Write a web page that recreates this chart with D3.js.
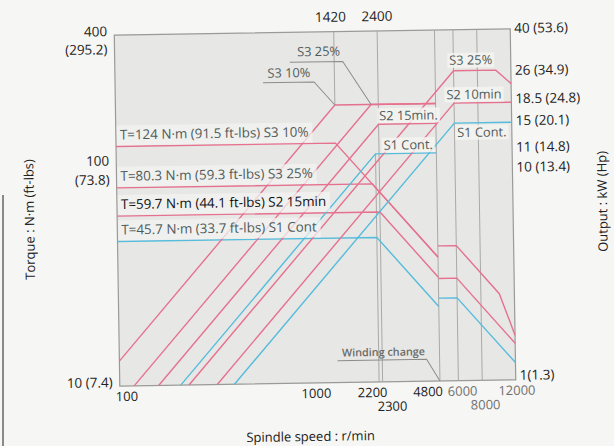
<!DOCTYPE html>
<html>
<head>
<meta charset="utf-8">
<script src="https://cdn.jsdelivr.net/npm/d3@7/dist/d3.min.js"></script>
<style>
  body { margin: 0; background: #f6f6f4; }
  svg { display: block; font-family: "Open Sans", sans-serif; }
</style>
</head>
<body>
<svg width="614" height="446"></svg>
<script>
// speeds r/min, torque N·m, output kW
var bottomTicks = [100, 1000, 2200, 2300, 4800, 6000, 8000, 12000];
var topTicks = [1420, 2400];
var torqueTicks = [400, 100, 10];
var torqueTickLabels = [["400", "(295.2)"], ["100", "(73.8)"], ["10 (7.4)"]];
var powerTicks = [40, 26, 18.5, 15, 11, 10, 1];
var powerTickLabels = ["40 (53.6)", "26 (34.9)", "18.5 (24.8)", "15 (20.1)", "11 (14.8)", "10 (13.4)", "1(1.3)"];

// low-speed winding torque
var torqueS3_10 = [[100, 124], [1420, 124], [4800, 36.8]];
var torqueS3_25L = [[100, 80.3], [2200, 80.3], [4800, 36.8]];
var torqueS2_15 = [[100, 59.7], [2400, 59.7], [4800, 29.8]];
var torqueS1L = [[100, 45.7], [2300, 45.7], [4800, 21.9]];
// high-speed winding torque
var torqueS3_25H = [[4800, 41.4], [6000, 41.4], [10000, 24.8], [12000, 16]];
var torqueS2_10 = [[4800, 29.4], [6000, 29.4], [12000, 14.7]];
var torqueS1H = [[4800, 23.9], [6000, 23.9], [12000, 12]];

// output
var powerS3_10 = [[100, 1.3], [1420, 18.5], [4800, 18.5]];
var powerS3_25L = [[119, 1], [2200, 18.5], [4800, 18.5]];
var powerS2_15 = [[160, 1], [2400, 15], [4800, 15]];
var powerS1L = [[209, 1], [2300, 11], [4800, 11]];
var powerS3_25H = [[231, 1], [6000, 26], [10000, 26], [12000, 22.5]];
var powerS2_10 = [[325, 1], [6000, 18.5], [12000, 18.5]];
var powerS1H = [[400, 1], [6000, 15], [12000, 15]];

var torqueLabels = ["T=124 N·m (91.5 ft-lbs) S3 10%", "T=80.3 N·m (59.3 ft-lbs) S3 25%",
                    "T=59.7 N·m (44.1 ft-lbs) S2 15min", "T=45.7 N·m (33.7 ft-lbs) S1 Cont"];
var torqueLabelValues = [124, 80.3, 59.7, 45.7];

var svg = d3.select("svg");
// the scan is turned a little
var g = svg.append("g").attr("transform", "rotate(-0.9,314,207)");

var x = d3.scaleLog().domain([100, 12000]).range([117, 513]);
var yT = d3.scaleLog().domain([10, 400]).range([383, 32]);
var yP = d3.scaleLog().domain([1, 40]).range([383, 32]);

var pink = "#e6718f", blue = "#55bcdc", grid = "#a9a9a7", ink = "#222", soft = "#4f5b5b";

g.append("rect")
  .attr("x", x(100)).attr("y", yT(400))
  .attr("width", x(12000) - x(100)).attr("height", yT(10) - yT(400))
  .attr("fill", "#e7e7e5").attr("stroke", "#9a9a98").attr("stroke-width", 1.2);

// vertical speed lines
[2400, 4800, 6000, 8000].forEach(function(s) {
  g.append("line").attr("x1", x(s)).attr("x2", x(s)).attr("y1", yT(400)).attr("y2", yT(10))
    .attr("stroke", grid).attr("stroke-width", 1);
});
g.append("line").attr("x1", x(1420)).attr("x2", x(1420)).attr("y1", yT(400)).attr("y2", yP(18.5))
  .attr("stroke", grid).attr("stroke-width", 1);
g.append("line").attr("x1", x(2300)).attr("x2", x(2300)).attr("y1", yP(11)).attr("y2", yT(10))
  .attr("stroke", grid).attr("stroke-width", 1);

var torqueLine = d3.line().x(function(d) { return x(d[0]); }).y(function(d) { return yT(d[1]); });
var powerLine = d3.line().x(function(d) { return x(d[0]); }).y(function(d) { return yP(d[1]); });

var torqueSeries = [["S3", torqueS3_10], ["S3", torqueS3_25L], ["S2", torqueS2_15], ["S1", torqueS1L],
                    ["S3", torqueS3_25H], ["S2", torqueS2_10], ["S1", torqueS1H]];
var powerSeries = [["S3", powerS3_10], ["S3", powerS3_25L], ["S2", powerS2_15], ["S1", powerS1L],
                   ["S3", powerS3_25H], ["S2", powerS2_10], ["S1", powerS1H]];

torqueSeries.forEach(function(s) {
  g.append("path").attr("d", torqueLine(s[1])).attr("fill", "none")
    .attr("stroke", s[0] == "S1" ? blue : pink).attr("stroke-width", 1.4);
});
powerSeries.forEach(function(s) {
  g.append("path").attr("d", powerLine(s[1])).attr("fill", "none")
    .attr("stroke", s[0] == "S1" ? blue : pink).attr("stroke-width", 1.4);
});

// torque rating labels on the left
torqueLabels.forEach(function(t, i) {
  var yv = yT(torqueLabelValues[i]);
  var box = g.append("rect").attr("x", x(100) + 1).attr("y", yv - 21).attr("height", 20)
    .attr("fill", "#f3f3f1").attr("fill-opacity", 0.75);
  var txt = g.append("text").attr("x", x(100) + 4).attr("y", yv - 7)
    .attr("font-size", 13.4).attr("fill", i == 2 ? "#111" : soft)
    .attr("font-weight", i == 2 ? 500 : 400).text(t);
  box.attr("width", txt.node().getComputedTextLength() + 7);
});

// small boxed labels near the knees
function tag(text, cx, base) {
  var box = g.append("rect").attr("y", base - 12).attr("height", 15)
    .attr("fill", "#f3f3f1").attr("fill-opacity", 0.85);
  var t = g.append("text").attr("x", cx).attr("y", base).attr("text-anchor", "middle")
    .attr("font-size", 12.8).attr("fill", soft).text(text);
  var w = t.node().getComputedTextLength();
  box.attr("x", cx - w / 2 - 2).attr("width", w + 4);
}
tag("S3 25%", x(7400), yP(26) - 6);
tag("S2 10min", x(7650), yP(18.5) - 4);
tag("S2 15min.", x(3450), yP(15) - 4);
tag("S1 Cont.", x(3420), yP(11) - 4);
tag("S1 Cont.", x(8350), yP(15) + 14);

// leader lines for S3 labels at the upper knees
g.append("text").attr("x", 321).attr("y", 56).attr("text-anchor", "middle")
  .attr("font-size", 12.8).attr("fill", soft).text("S3 25%");
g.append("path").attr("d", d3.line()([[292, 62], [345, 62], [x(2200), yP(18.5)]]))
  .attr("fill", "none").attr("stroke", "#8c8c8a").attr("stroke-width", 1);
g.append("text").attr("x", 291).attr("y", 77).attr("text-anchor", "middle")
  .attr("font-size", 12.8).attr("fill", soft).text("S3 10%");
g.append("path").attr("d", d3.line()([[265, 82], [316, 82], [x(1420), yP(18.5)]]))
  .attr("fill", "none").attr("stroke", "#8c8c8a").attr("stroke-width", 1);

// winding change note
g.append("text").attr("x", x(4800) - 56).attr("y", yT(10) - 26).attr("text-anchor", "middle")
  .attr("font-size", 10.8).attr("font-weight", 600).attr("fill", "#6a6a68").text("Winding change");
g.append("path").attr("d", d3.line()([[x(4800) - 102, yT(10) - 22], [x(4800) - 13, yT(10) - 22], [x(4800), yT(10)]]))
  .attr("fill", "none").attr("stroke", "#8c8c8a").attr("stroke-width", 1);

// left axis labels
torqueTicks.forEach(function(v, i) {
  var lab = torqueTickLabels[i];
  g.append("text").attr("x", 110).attr("y", yT(v) + (v == 100 ? -1.5 : 1))
    .attr("text-anchor", "end").attr("font-size", 13.5).attr("fill", ink).text(lab[0]);
  if (lab.length > 1) {
    g.append("text").attr("x", 110).attr("y", yT(v) + (v == 400 ? 19 : 17.5))
      .attr("text-anchor", "end").attr("font-size", 13.5).attr("fill", ink).text(lab[1]);
  }
});

// right axis labels
var powerLabelShift = [-1, 0, -4, -2, -5, 6, -5];
powerTicks.forEach(function(v, i) {
  g.append("text").attr("x", 517).attr("y", yP(v) + powerLabelShift[i] + 5)
    .attr("font-size", 13.5).attr("fill", ink).text(powerTickLabels[i]);
});

// bottom speed labels
var bottomShift = [7, 6, -3, 13, -12, 4, 3, 1];
var bottomRow = [0, 0, 0, 1, 0, 0, 1, 0];
bottomTicks.forEach(function(v, i) {
  g.append("text").attr("x", x(v) + bottomShift[i]).attr("y", bottomRow[i] ? 412 : 398)
    .attr("text-anchor", "middle").attr("font-size", 13)
    .attr("fill", v >= 6000 ? "#707070" : ink).text(v);
});
topTicks.forEach(function(v, i) {
  g.append("text").attr("x", x(v) + (i == 0 ? -3 : 0)).attr("y", 22)
    .attr("text-anchor", "middle").attr("font-size", 13.5).attr("fill", ink).text(v);
});

// axis titles
g.append("text").attr("transform", "translate(34,215) rotate(-90)").attr("text-anchor", "middle")
  .attr("font-size", 13).attr("fill", ink).text("Torque : N·m (ft-lbs)");
g.append("text").attr("transform", "translate(607,206) rotate(-90)").attr("text-anchor", "middle")
  .attr("font-size", 13).attr("fill", ink).text("Output : kW (Hp)");
g.append("text").attr("x", 307).attr("y", 441).attr("text-anchor", "middle")
  .attr("font-size", 13).attr("fill", ink).text("Spindle speed : r/min");

// scan edge
svg.append("line").attr("x1", 3).attr("x2", 3).attr("y1", 195).attr("y2", 446)
  .attr("stroke", "#666").attr("stroke-width", 1.5);
</script>
</body>
</html>
